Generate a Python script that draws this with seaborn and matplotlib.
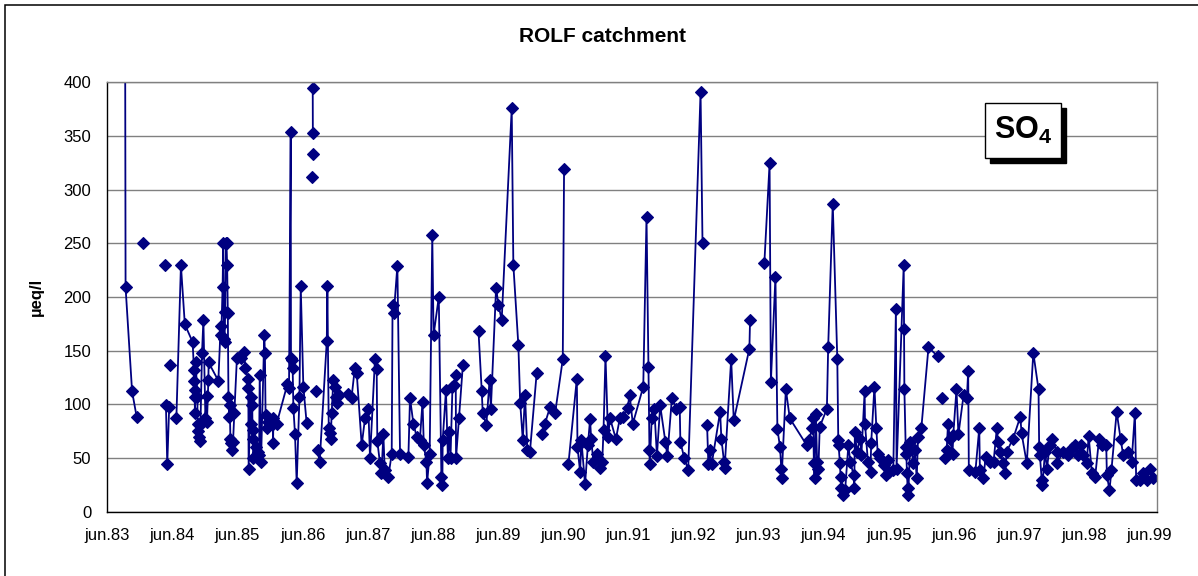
import numpy as np
import pandas as pd
import matplotlib
matplotlib.use('Agg')
import matplotlib.pyplot as plt
from matplotlib.patches import Rectangle
import seaborn as sns

nan = np.nan

# sampling dates, in years after 1 June 1983 (nan = gap in the record)
t_years = [
    0.27, 0.28, 0.38, 0.45, nan,
    0.54, nan,
    0.89, nan,
    0.90, 0.92, 0.95, nan,
    0.96, nan,
    1.06, 1.13, 1.19,
    1.31, 1.33, 1.335, 1.34, 1.345, 1.35, 1.357, 1.383, 1.385, 1.398, 1.413, 1.424, 1.43, 1.454, 1.475,
    1.506, 1.526, 1.53, 1.552, 1.555,
    1.705, 1.74, 1.75, 1.77, 1.78, 1.79, 1.80, 1.81, 1.82, 1.83, 1.84, 1.85, 1.86, 1.87, 1.88, 1.89,
    1.90, 1.91, 1.93, 1.95,
    1.99, 2.06, 2.10, 2.12, 2.16, 2.165, 2.17, 2.20, 2.205, 2.225, 2.23, 2.235, 2.24, 2.29, 2.31, 2.33,
    2.34, 2.36, 2.41, 2.42, 2.43, 2.45, 2.46, 2.54, 2.545, 2.55, 2.60,
    2.764, 2.79, 2.816, 2.82, 2.83, 2.846, 2.857, 2.882, 2.908, 2.95, 2.97, 3.01, 3.06, nan,
    3.15, nan,
    3.152, nan,
    3.154, 3.156, nan,
    3.21, nan,
    3.23, 3.26, 3.37, 3.379, 3.40, 3.42, 3.43, 3.445, 3.47, 3.49, 3.51, 3.53, 3.565, 3.70, 3.75, 3.80, 3.83,
    3.906, 3.957, 4.008, 4.034, 4.11, 4.136, 4.146, 4.187, 4.21, 4.239, 4.26, 4.315, 4.367, 4.38, 4.40,
    4.454, 4.495, 4.623, 4.648, 4.70, 4.75, 4.80, 4.84, 4.86, 4.90, 4.91, 4.95, 4.99, 5.01, 5.09, 5.13,
    5.145, 5.15, 5.20, 5.23, 5.25, 5.27, 5.30, 5.32, 5.35, 5.355, 5.40, 5.46, nan,
    5.70, 5.75, 5.765, 5.82, 5.87, 5.89, 5.97, 6.005, 6.056, 6.21, 6.235, 6.312, 6.34, 6.38, 6.414, 6.45,
    6.49, 6.593, nan,
    6.67, 6.72, 6.80, 6.876, 6.994, 7.014, nan,
    7.08, 7.21, 7.22, 7.26, 7.28, 7.336, 7.38, 7.413, 7.43, 7.464, 7.515, 7.567, 7.60, 7.62, 7.65, 7.69, 7.72,
    7.81, 7.87, 7.915, 7.99, 8.02, 8.07, 8.23, 8.28, 8.31, 8.325, 8.33, 8.36, 8.40, 8.44, 8.49, 8.57, 8.60,
    8.67, 8.74, 8.79, 8.80, 8.86, 8.92, 9.11, 9.14, nan,
    9.21, 9.23, 9.25, 9.28, 9.41, 9.43, 9.47, 9.48, 9.58, 9.62, 9.86, 9.87, nan,
    10.09, 10.17, 10.19, 10.26, 10.29, 10.33, 10.35, 10.355, 10.42, 10.48,
    10.74, 10.78, 10.82, 10.84, 10.85, 10.86, 10.88, 10.90, 10.92, 10.94, 11.05, 11.07, 11.14, 11.21,
    11.225, 11.23, 11.25, 11.26, 11.27, 11.30, 11.33, 11.38, 11.41, 11.46, 11.47, 11.48, 11.51, 11.56,
    11.58, 11.63, 11.635, 11.68, 11.72, 11.73, 11.78, 11.81, 11.83, 11.87, 11.92, 11.96, 11.99, 12.01,
    12.07, 12.11, 12.12, 12.23, 12.235, 12.24, 12.26, 12.27, 12.28, 12.29, 12.30, 12.33, 12.38, 12.40,
    12.43, 12.45, 12.50, 12.61, 12.75, nan,
    12.82, nan,
    12.86, 12.89, 12.91, 12.94, 12.98, 12.99, 13.04, 13.07, 13.15, 13.20, 13.22, 13.23, 13.33, 13.39,
    13.40, 13.45, 13.49, 13.55, 13.61, 13.66, 13.68, 13.71, 13.76, 13.79, 13.81, 13.91, 14.02, 14.04,
    14.12, 14.22, 14.30, 14.31, 14.32, 14.35, 14.36, 14.40, 14.43, 14.47, 14.50, 14.58, 14.585, 14.68,
    14.76, 14.81, 14.86, 14.91, 14.96, 14.99, 15.04, 15.07, 15.12, 15.17, 15.23, 15.27, 15.34, 15.35,
    15.39, 15.42, 15.50, 15.56, 15.60, 15.68, 15.73, 15.78, 15.80, 15.86, 15.91, 15.96, 16.01, 16.06,
]

# SO4 concentration, µeq/l
so4 = [
    560, 209, 112, 88.5, nan,
    250, nan,
    229.5, nan,
    99, 44, 98, nan,
    137, nan,
    87, 229.5, 174.5,
    158, 132, 122, 113, 92, 107, 139, 107, 82, 75, 70, 66, 81, 148, 178.6,
    87, 108, 84, 123, 139,
    122, 173, 165, 209, 250, 161, 158, 186, 250, 250, 229.5, 185, 107, 88.5, 99, 68,
    63.7, 57.5, 65, 91.6,
    143.5, 143.5, 149, 134, 124, 115, 40, 107, 82, 99, 76, 68, 50, 60.6, 56, 53,
    127, 46.6, 164.6, 148, 90, 77.6, 84, 82, 63.7, 87, 82,
    118.6, 115, 354, 143, 141, 133.5, 97, 72, 26.4, 107, 210, 116.5, 83, nan,
    312, nan,
    333, nan,
    395, 353, nan,
    112, nan,
    57.5, 46, 159, 210, 77.6, 73, 68, 91.6, 122.7, 116.5, 107, 101, 108.7, 110, 106, 133.5, 129,
    62, 87, 96, 50, 142, 132.6, 65.8, 45, 35.7, 72, 38.8, 32.6, 54, 193, 185,
    229, 54, 51, 106, 82, 70, 67, 102.5, 62, 46.6, 26.4, 54, 257.8, 164.6, 200, 32.6,
    24.8, 66.8, 113, 50, 74.5, 50, 116.5, 118, 127, 50, 87, 137, nan,
    168, 112, 91.6, 81, 122.7, 96, 208.7, 193, 178.6, 375.8, 230, 155, 101.5, 66.8, 109, 57.5,
    56, 129, nan,
    72, 82, 97.8, 91.6, 142, 319, nan,
    44, 124, 60.6, 37, 66.8, 25.5, 62, 86, 68, 46.6, 54, 41, 46.6, 76, 145, 70, 87,
    67.7, 87, 88.5, 97, 109, 82, 116.5, 275, 134.5, 57.5, 44, 87, 96, 52, 99, 65, 52,
    106, 96, 98, 65, 50, 38.8, 391, 250, nan,
    81, 44, 57.5, 44, 93, 68, 46.6, 41, 142, 85, 152, 178.6, nan,
    232, 324.5, 121, 219, 76.7, 60.6, 40, 31.7, 114, 87,
    62, 67, 77.6, 87, 45, 31, 90.7, 46.6, 40, 79, 96, 153.7, 287, 142,
    66.8, 62, 45, 32.6, 21.7, 16, 20, 62, 46.6, 34, 21.7, 74.5, 56, 68,
    53, 112, 82, 46.6, 37, 63.7, 116.5, 77.6, 54, 50, 43.5, 34, 48, 37,
    38.8, 189, 40, 230, 170, 114, 60.6, 54, 35.7, 21.7, 16, 65, 45, 57.5,
    31, 70, 77.6, 153, 145, nan,
    106, nan,
    50, 57.5, 82, 68, 54, 71, 114, 72, 109, 106, 131, 38.8, 37, 78,
    38.8, 31, 51, 46.6, 46.6, 78, 65, 56, 45, 35.7, 56, 68, 88.5, 73,
    45, 148, 114, 60.6, 53, 29.5, 24.8, 56, 40, 62, 68, 56, 45, 56,
    53, 59, 62, 53, 62, 53, 45, 70.8, 35.7, 32.6, 68, 62, 62, 34,
    20, 38.8, 93, 68, 53, 56, 46.6, 91.6, 29.5, 29.5, 35.7, 29.5, 40, 31,
]

tick_labels = ['jun.83', 'jun.84', 'jun.85', 'jun.86', 'jun.87', 'jun.88', 'jun.89', 'jun.90',
               'jun.91', 'jun.92', 'jun.93', 'jun.94', 'jun.95', 'jun.96', 'jun.97', 'jun.98', 'jun.99']
y_ticks = [0, 50, 100, 150, 200, 250, 300, 350, 400]

df = pd.DataFrame({'t': t_years, 'so4': so4})
df['seg'] = df['so4'].isna().cumsum()
df = df.dropna()

sns.set_style('white')
plt.rcParams['font.family'] = ['Liberation Sans', 'DejaVu Sans']
plt.rcParams['mathtext.fontset'] = 'custom'
plt.rcParams['mathtext.rm'] = 'Liberation Sans'
plt.rcParams['mathtext.bf'] = 'Liberation Sans:bold'
plt.rcParams['text.color'] = 'black'
plt.rcParams['axes.labelcolor'] = 'black'
plt.rcParams['xtick.color'] = 'black'
plt.rcParams['ytick.color'] = 'black'

navy = '#000080'
fig = plt.figure(figsize=(11.98, 5.76), dpi=100)
ax = fig.add_axes([0.0896, 0.1116, 0.8762, 0.7455])

sns.lineplot(data=df, x='t', y='so4', units='seg', estimator=None, sort=False,
             color=navy, marker='D', markersize=6.3, markeredgecolor=navy,
             markeredgewidth=0.8, linewidth=1.3, legend=False, ax=ax)

ax.set_xlim(0, 16.12)
ax.set_ylim(0, 400)
ax.set_xticks(range(len(tick_labels)))
ax.set_xticklabels(tick_labels)
ax.set_yticks(y_ticks)
ax.set_xlabel('')
ax.set_ylabel('µeq/l', fontsize=12, fontweight='bold', color='black')
ax.yaxis.set_label_coords(-0.06, 0.5)
ax.tick_params(direction='inout', length=9, width=1, colors='black', labelsize=12, pad=7)
ax.yaxis.grid(True, color='#808080', linewidth=1)
ax.set_axisbelow(True)
for s in ['left', 'bottom']:
    ax.spines[s].set_color('black')
    ax.spines[s].set_linewidth(1)
for s in ['top', 'right']:
    ax.spines[s].set_color('#808080')
    ax.spines[s].set_linewidth(1)

fig.text(0.5033, 0.936, 'ROLF catchment', ha='center', va='center',
         fontsize=15, fontweight='bold', color='black')

# SO4 label box with drop shadow
bx, by, bw, bh = 0.8222, 0.7257, 0.0634, 0.0955
fig.patches.append(Rectangle((bx + 0.0042, by - 0.0087), bw, bh, transform=fig.transFigure,
                             facecolor='black', edgecolor='black', zorder=5))
fig.patches.append(Rectangle((bx, by), bw, bh, transform=fig.transFigure,
                             facecolor='white', edgecolor='black', linewidth=1, zorder=6))
fig.text(bx + bw / 2, by + bh / 2, r'$\mathbf{SO_4}$', ha='center', va='center',
         fontsize=22, color='black', zorder=7)

# outer chart frame
fig.patches.append(Rectangle((0.0042, -0.1), 1.2, 1.0913, transform=fig.transFigure,
                             fill=False, edgecolor='black', linewidth=1.1))

fig.savefig('out.png', dpi=100)
